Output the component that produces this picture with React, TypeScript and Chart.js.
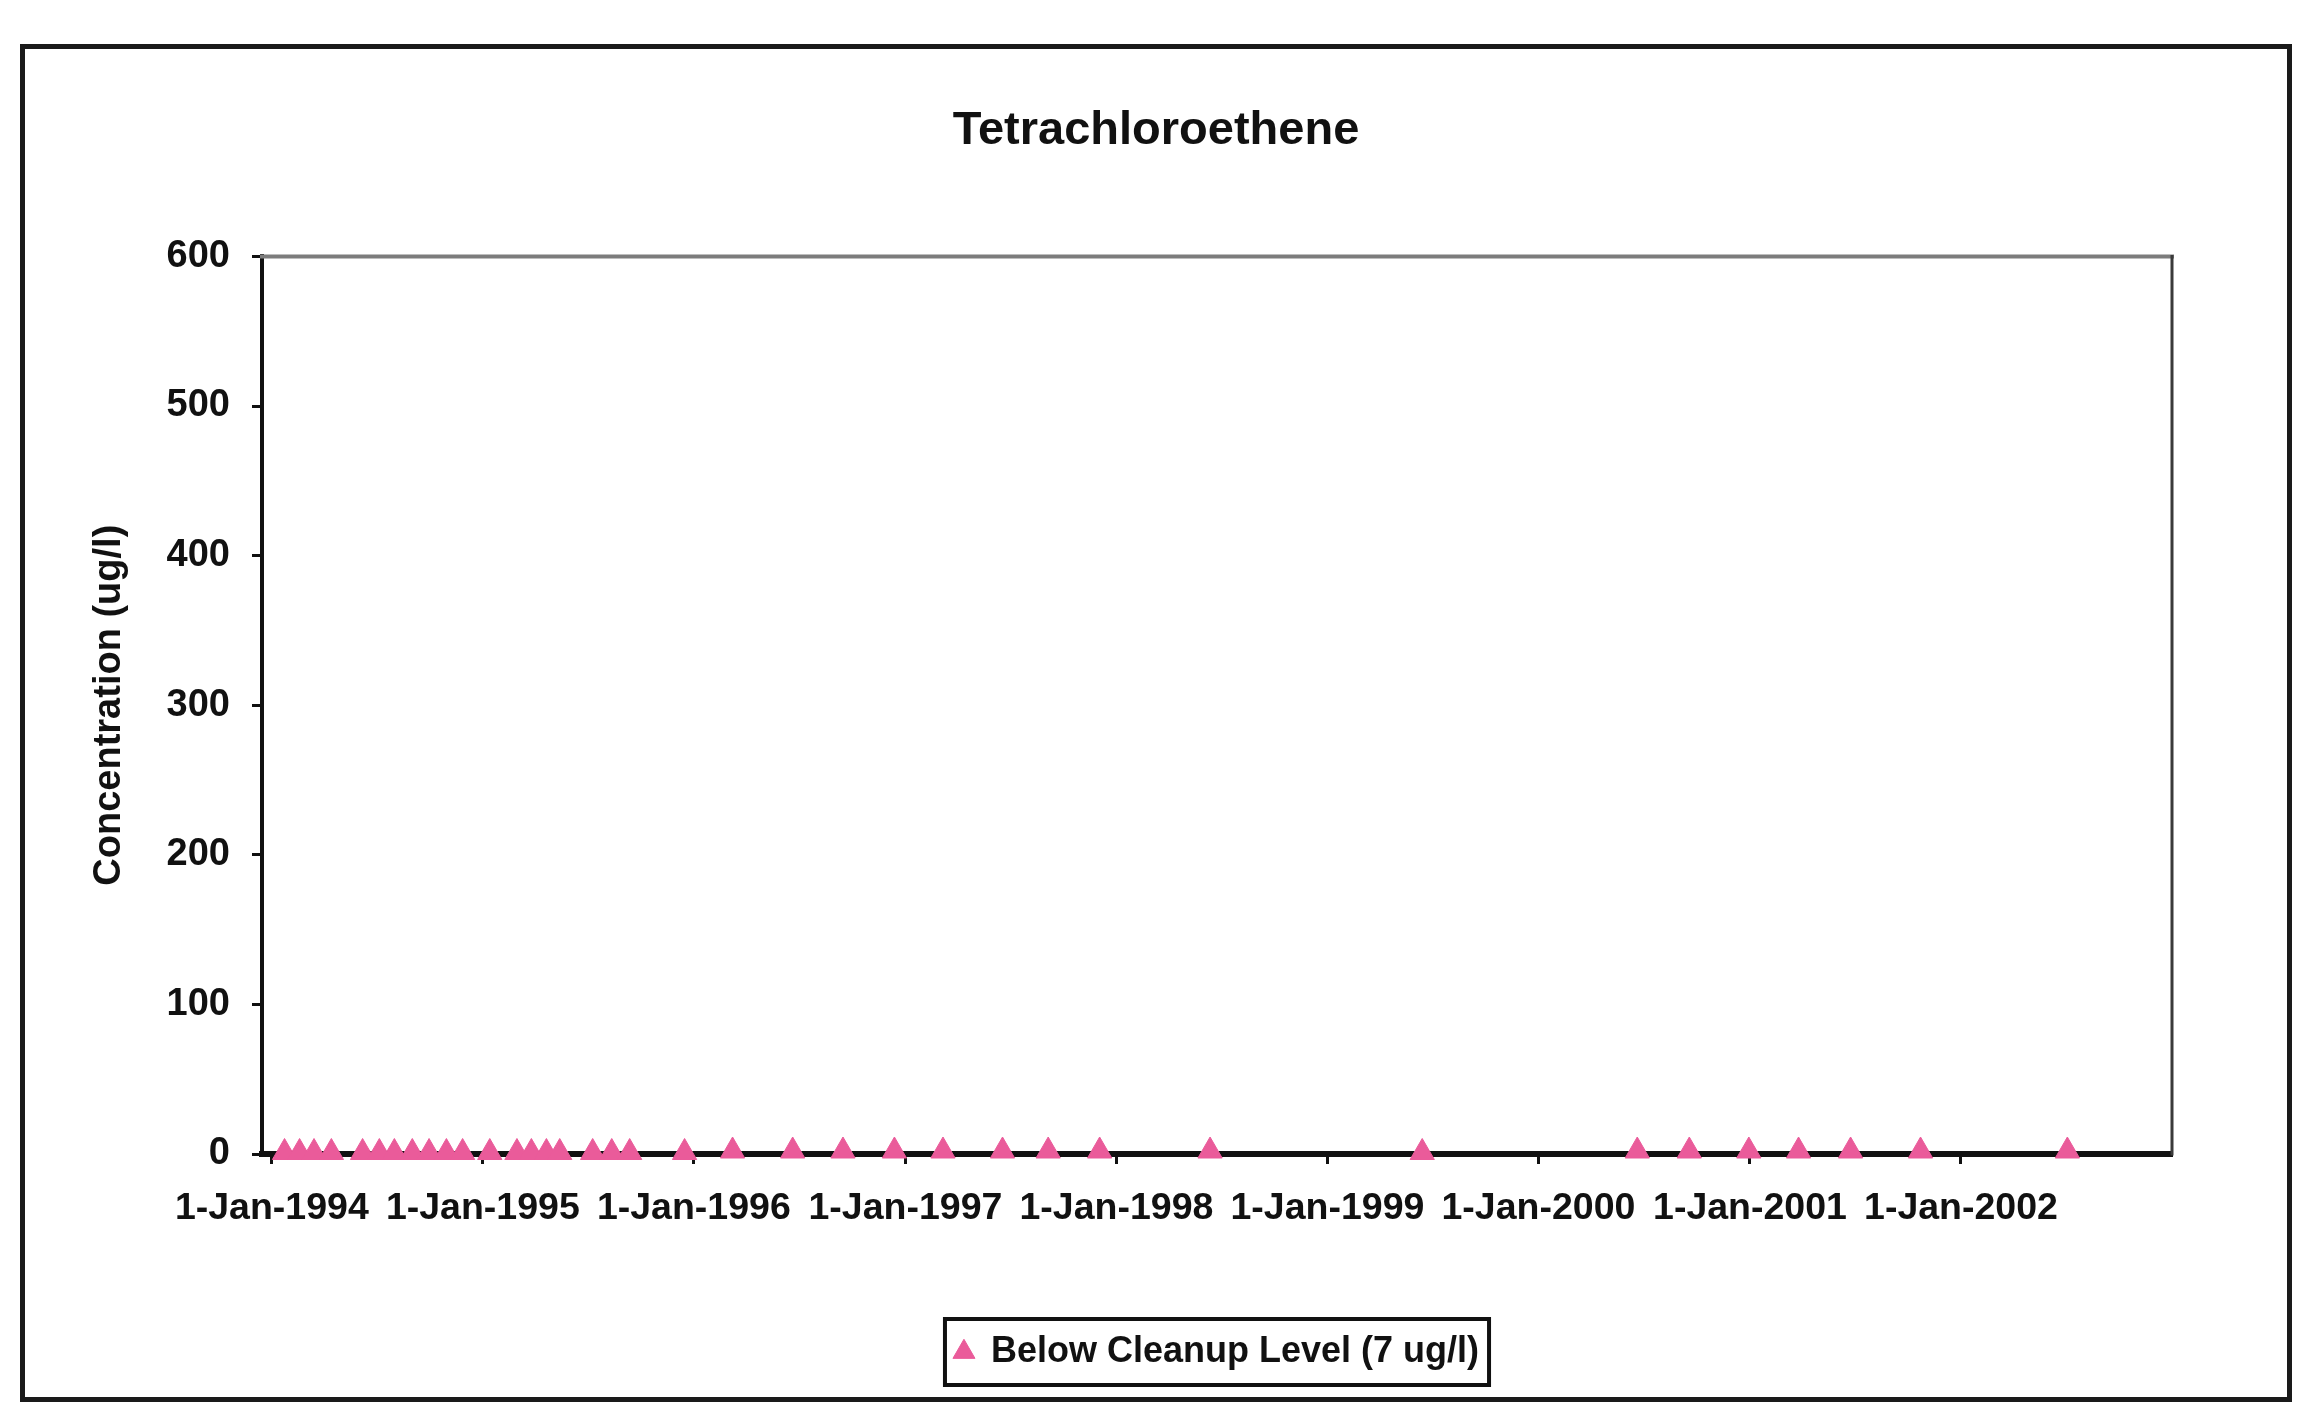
import React, { useEffect, useRef } from "react";
import { Chart, registerables } from "chart.js";

Chart.register(...registerables);

// ---- Data ----
const chartTitle = "Tetrachloroethene";
const yAxisTitle = "Concentration (ug/l)";
const seriesLabel = "Below Cleanup Level (7 ug/l)";

const sampleDates = [
  "1994-01-23", "1994-02-18", "1994-03-15", "1994-04-14", "1994-06-07",
  "1994-07-06", "1994-08-01", "1994-09-01", "1994-09-30", "1994-10-30",
  "1994-11-27", "1995-01-13", "1995-03-01", "1995-03-26", "1995-04-21",
  "1995-05-14", "1995-07-10", "1995-08-12", "1995-09-12", "1995-12-16",
  "1996-03-08", "1996-06-20", "1996-09-15", "1996-12-13", "1997-03-07",
  "1997-06-18", "1997-09-05", "1997-12-03", "1998-06-12", "1999-06-14",
  "2000-06-20", "2000-09-18", "2000-12-30", "2001-03-26", "2001-06-24",
  "2001-10-23", "2002-07-04",
];

const concentrations = [
  1, 1, 1, 1, 1,
  1, 1, 1, 1, 1,
  1, 1, 1, 1, 1,
  1, 1, 1, 1, 1,
  2, 2, 2, 2, 2,
  2, 2, 2, 2, 1,
  2, 2, 2, 2, 2,
  2, 2,
];

const yearTicks = [1994, 1995, 1996, 1997, 1998, 1999, 2000, 2001, 2002];
const axisStart = "1993-12-15";
const axisEnd = "2003-01-01";
const yMin = 0;
const yMax = 600;
const yStep = 100;
const monthNames = ["Jan", "Feb", "Mar", "Apr", "May", "Jun", "Jul", "Aug", "Sep", "Oct", "Nov", "Dec"];

function toMs(d: string): number {
  const [y, m, dd] = d.split("-").map(Number);
  return Date.UTC(y, m - 1, dd);
}

const FONT = "'Liberation Sans', Arial, sans-serif";
const PINK = "#ea5b9a";
const INK = "#111111";

const framePlugin = {
  id: "excelFrame",
  beforeDatasetsDraw(chart: any) {
    const { ctx, chartArea } = chart;
    const { left, top, right, bottom } = chartArea;
    ctx.save();
    ctx.lineCap = "square";
    ctx.strokeStyle = "#7c7c7c";
    ctx.lineWidth = 4;
    ctx.beginPath();
    ctx.moveTo(left, top);
    ctx.lineTo(right, top);
    ctx.stroke();
    ctx.strokeStyle = "#3a3a3a";
    ctx.lineWidth = 3;
    ctx.beginPath();
    ctx.moveTo(right, top);
    ctx.lineTo(right, bottom);
    ctx.stroke();
    ctx.restore();
  },
  afterDraw(chart: any) {
    const legend = chart.legend;
    const hb = legend && legend.legendHitBoxes && legend.legendHitBoxes[0];
    if (!hb) return;
    const { ctx } = chart;
    ctx.save();
    ctx.strokeStyle = INK;
    ctx.lineWidth = 4;
    ctx.strokeRect(hb.left - 10, hb.top - 15, hb.width + 20, hb.height + 30);
    ctx.restore();
  },
};

export default function App() {
  const canvasRef = useRef<HTMLCanvasElement | null>(null);

  useEffect(() => {
    const canvas = canvasRef.current;
    if (!canvas) return;
    const points = sampleDates.map((d, i) => ({ x: toMs(d), y: concentrations[i] }));

    const chart = new Chart(canvas, {
      type: "scatter",
      data: {
        datasets: [
          {
            label: seriesLabel,
            data: points,
            showLine: false,
            pointStyle: "triangle",
            pointRadius: 14,
            pointHoverRadius: 14,
            backgroundColor: PINK,
            borderColor: PINK,
            borderWidth: 1,
            clip: false,
          },
        ],
      },
      options: {
        responsive: false,
        animation: false,
        devicePixelRatio: 1,
        layout: { padding: { left: 0, right: 0, top: 0, bottom: 17 } },
        plugins: {
          title: {
            display: true,
            text: chartTitle,
            color: INK,
            font: { family: FONT, size: 47, weight: "bold" },
            padding: { top: 54, bottom: 97 },
          },
          legend: {
            display: true,
            position: "bottom",
            fullSize: false,
            labels: {
              usePointStyle: true,
              pointStyle: "triangle",
              boxWidth: 18,
              boxHeight: 18,
              padding: 10,
              color: INK,
              font: { family: FONT, size: 36, weight: "bold" },
            },
          },
          tooltip: { enabled: false },
        },
        scales: {
          x: {
            type: "linear",
            min: toMs(axisStart),
            max: toMs(axisEnd),
            afterBuildTicks: (scale: any) => {
              scale.ticks = yearTicks.map((y) => ({ value: Date.UTC(y, 0, 1) }));
            },
            afterFit: (scale: any) => {
              scale.height = 170;
            },
            grid: {
              display: true,
              drawOnChartArea: false,
              drawTicks: true,
              tickLength: 10,
              tickColor: INK,
              tickWidth: 3,
            },
            border: { display: true, color: INK, width: 6 },
            ticks: {
              autoSkip: false,
              maxRotation: 0,
              minRotation: 0,
              padding: 22,
              color: INK,
              font: { family: FONT, size: 37.5, weight: "bold" },
              callback: (v: any) => {
                const d = new Date(Number(v));
                return `${d.getUTCDate()}-${monthNames[d.getUTCMonth()]}-${d.getUTCFullYear()}`;
              },
            },
          },
          y: {
            type: "linear",
            position: "left",
            min: yMin,
            max: yMax,
            afterFit: (scale: any) => {
              scale.width = 237;
            },
            grid: {
              display: true,
              drawOnChartArea: false,
              drawTicks: true,
              tickLength: 10,
              tickColor: INK,
              tickWidth: 3,
            },
            border: { display: true, color: INK, width: 4 },
            ticks: {
              stepSize: yStep,
              padding: 22,
              color: INK,
              font: { family: FONT, size: 38, weight: "bold" },
            },
            title: {
              display: true,
              text: yAxisTitle,
              color: INK,
              font: { family: FONT, size: 38, weight: "bold" },
              padding: { top: 62, bottom: 0 },
            },
          },
          yRightSpace: {
            type: "linear",
            position: "right",
            display: true,
            min: yMin,
            max: yMax,
            afterFit: (scale: any) => {
              scale.width = 115;
            },
            grid: { display: false, drawTicks: false },
            border: { display: false },
            ticks: { display: false },
          },
        },
      },
      plugins: [framePlugin],
    } as any);

    return () => {
      chart.destroy();
    };
  }, []);

  return (
    <div
      style={{
        position: "absolute",
        left: 20,
        top: 44,
        border: "5px solid #1a1a1a",
        background: "#ffffff",
      }}
    >
      <canvas ref={canvasRef} width={2262} height={1348} style={{ display: "block" }} />
    </div>
  );
}
